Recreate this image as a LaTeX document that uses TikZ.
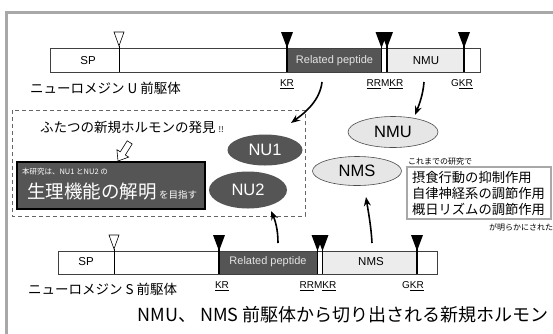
\documentclass[tikz,border=0pt]{standalone}
\usepackage{fontspec}
\setmainfont{Noto Sans CJK JP}
\newfontfamily\lat{Liberation Sans}
\usetikzlibrary{arrows.meta,shapes.geometric}
\definecolor{darkfill}{HTML}{555555}
\definecolor{lightfill}{HTML}{ECECEC}
\definecolor{ellfill}{HTML}{E6E6E6}
\definecolor{framegray}{HTML}{A8A8A8}
\newcommand\fmark[3]{%
  \fill[black] (#1-6,#2) -- (#1+6,#2) -- (#1,#2+16) -- cycle;
  \draw[line width=1.8pt] (#1,#2+10) -- (#1,#3);}
\newcommand\omark[3]{%
  \draw[line width=0.6pt, fill=white] (#1-5,#2) -- (#1+5,#2) -- (#1,#2+14) -- cycle;
  \draw[line width=0.6pt] (#1,#2+14) -- (#1,#3);}
\newcommand\fsz[1]{\fontsize{#1}{#1}\selectfont}
\begin{document}
\begin{tikzpicture}[x=1pt,y=-1pt,
  every node/.style={inner sep=0pt, outer sep=0pt},
  lbl/.style={font=\lat\fsz{10}},
  seg/.style={font=\lat\fsz{11.5}},
  rpseg/.style={font=\lat\fsz{11}, text=white!90!black},
  jp/.style={font=\fsz{13.5}},
  ell/.style={ellipse, draw=black!70, line width=0.6pt, fill=ellfill, font=\lat\fsz{16.5}},
  dell/.style={ellipse, fill=darkfill, text=white, font=\lat\fsz{16.5}},
  conn/.style={line width=1.6pt, -{Stealth[length=9pt,width=7pt]}}]
\useasboundingbox (0,0) rectangle (553,333);
\fill[white] (0,0) rectangle (553,333);
\draw[framegray, line width=3pt] (6,340) -- (6,12) -- (560,12);

% ---- top bar (NMU precursor)
\fill[darkfill] (287,48) rectangle (382,72);
\fill[lightfill] (387,48) rectangle (464,72);
\draw[line width=0.7pt, black!75] (50,48) rectangle (480,72);
\omark{119}{32}{72}
\fmark{287}{32}{72}
\fmark{381.5}{32}{72}
\fmark{387}{32}{72}
\fmark{464}{32}{72}
\node[seg] (sp1) at (88,61) {SP};
\node[rpseg] (rp1) at (334.5,61) {Related peptide};
\node[seg] (nmuseg) at (426,61) {NMU};
\node[lbl] (kr1) at (287,84) {\underline{KR}};
\node[lbl] (rr1) at (385,84) {\underline{RR}M\underline{KR}};
\node[lbl] (gk1) at (462,84) {G\underline{KR}};
\node[jp, anchor=west] (pre1) at (30,88) {ニューロメジン U 前駆体};

% ---- dashed box
\draw[gray!80!black, dashed, line width=0.7pt, dash pattern=on 4pt off 3pt] (12,110) rectangle (305,216);
\node[jp, anchor=west] (disc) at (40,127) {ふたつの新規ホルモンの発見 {\fsz{8}!!}};
\draw[line width=0.6pt, fill=white] (118,161) -- (128.7,157.1) -- (125.3,155.0) -- (132.2,144.0) -- (127.2,140.8) -- (120.3,151.8) -- (116.9,149.7) -- cycle;
\draw[line width=1.4pt, fill=darkfill] (17,162) rectangle (205,209);
\node[anchor=west, text=white, font=\fsz{7.5}] (aim1) at (22,172) {本研究は、NU1 とNU2 の};
\node[anchor=base west, text=white, font=\fsz{18.5}] (aim2) at (27,198) {生理機能の解明};
\node[anchor=base west, text=white, font=\fsz{9.5}] (aim3) at (159,198) {を目指す};
\node[dell, minimum width=75pt, minimum height=31pt] (nu1) at (265,150) {NU1};
\node[dell, minimum width=78pt, minimum height=37pt] (nu2) at (248,190) {NU2};

% ---- right ellipses
\node[ell, minimum width=90pt, minimum height=31pt] (nmu) at (393,132) {NMU};
\node[ell, minimum width=89pt, minimum height=29pt] (nms) at (357,171) {NMS};
\node[anchor=west, font=\fsz{8}] (prev) at (408,161) {これまでの研究で};
\draw[framegray, line width=1.8pt] (407,167) rectangle (551,219);
\node[anchor=west, font=\fsz{13.3}] (f1) at (412,177) {摂食行動の抑制作用};
\node[anchor=west, font=\fsz{13.3}] (f2) at (412,193) {自律神経系の調節作用};
\node[anchor=west, font=\fsz{13.3}] (f3) at (412,209) {概日リズムの調節作用};
\node[anchor=east, font=\fsz{8}] (clar) at (553,227) {が明らかにされた};

% ---- bottom bar (NMS precursor)
\fill[darkfill] (219,251) rectangle (318,274);
\fill[lightfill] (322,251) rectangle (417,274);
\draw[line width=0.7pt, black!75] (58,251) rectangle (437,274);
\omark{114}{235}{274}
\fmark{219}{235}{274}
\fmark{317.5}{235}{274}
\fmark{322.5}{235}{274}
\fmark{417}{235}{274}
\node[seg] (sp2) at (86,262) {SP};
\node[rpseg] (rp2) at (268,262) {Related peptide};
\node[seg] (nmsseg) at (371,262) {NMS};
\node[lbl] (kr2) at (222,286) {\underline{KR}};
\node[lbl] (rr2) at (318,286) {\underline{RR}M\underline{KR}};
\node[lbl] (gk2) at (413,286) {G\underline{KR}};
\node[jp, anchor=west] (pre2) at (28,289) {ニューロメジン S 前駆体};

\node[font=\fsz{18}] (title) at (343,315) {NMU、 NMS 前駆体から切り出される新規ホルモン};

% ---- connectors
\coordinate (s1) at (322,82);
\coordinate (e1) at (291,123);
\coordinate (s2) at (424,82);
\coordinate (e2) at (415,115);
\coordinate (s3) at (278,243);
\coordinate (e3) at (271,211);
\coordinate (s4) at (372,243);
\coordinate (e4) at (366,197);
\draw[conn] (s1) .. controls (320,100) and (306,112) .. (e1);
\draw[conn] (s2) .. controls (423,95) and (419,105) .. (e2);
\draw[conn] (s3) .. controls (278,229) and (275,220) .. (e3);
\draw[conn] (s4) .. controls (371,225) and (368,210) .. (e4);
\end{tikzpicture}
\end{document}
